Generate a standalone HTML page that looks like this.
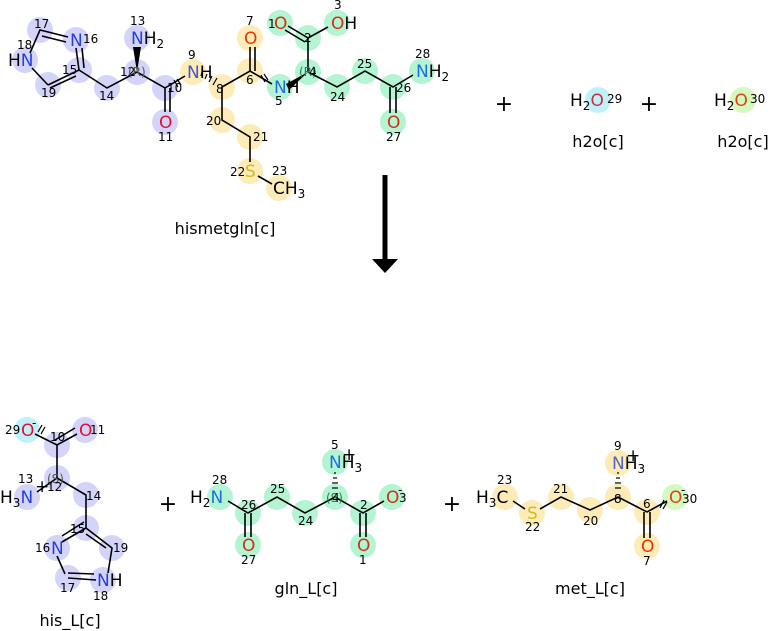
<!DOCTYPE html>
<html><head><meta charset="utf-8"><style>
html,body{margin:0;padding:0;background:#fff;}
svg{display:block;font-family:"DejaVu Sans","Liberation Sans",sans-serif;}
.b{stroke:#000;stroke-width:1.6;fill:none}
.n{font-size:12px;fill:#000}
.a{font-size:17px}
.l{font-size:16px;fill:#000}
.p{font-size:22px;fill:#000}
</style></head><body>
<svg width="769" height="631" viewBox="0 0 769 631">
<g fill="#d4d4fb">
<circle cx="40" cy="30" r="13"/><circle cx="76" cy="40" r="13"/><circle cx="25" cy="60" r="13"/><circle cx="48" cy="85" r="13"/><circle cx="79" cy="70" r="13"/><circle cx="107" cy="88" r="13"/><circle cx="137" cy="72" r="13"/><circle cx="137" cy="38" r="13"/><circle cx="165" cy="88" r="13"/><circle cx="165" cy="122" r="13"/>
</g>
<g fill="#fdebb8">
<circle cx="193" cy="72" r="13"/><circle cx="222" cy="87" r="13"/><circle cx="250" cy="71" r="13"/><circle cx="250" cy="38" r="13"/><circle cx="222" cy="120" r="13"/><circle cx="250" cy="137" r="13"/><circle cx="250" cy="171" r="13"/><circle cx="279" cy="188" r="13"/>
</g>
<g fill="#b4f4d2">
<circle cx="280" cy="87" r="13"/><circle cx="308" cy="72" r="13"/><circle cx="308" cy="38" r="13"/><circle cx="280" cy="23" r="13"/><circle cx="337" cy="23" r="13"/><circle cx="337" cy="87" r="13"/><circle cx="365" cy="71" r="13"/><circle cx="393" cy="87" r="13"/><circle cx="393" cy="122" r="13"/><circle cx="422" cy="71" r="13"/>
</g>
<circle cx="598" cy="100" r="13" fill="#bff0fb"/>
<circle cx="743" cy="100" r="13" fill="#d6f9c0"/>
<circle cx="27" cy="430" r="13" fill="#bff0fb"/>
<g fill="#d4d4fb">
<circle cx="85" cy="430" r="13"/><circle cx="57" cy="445" r="13"/><circle cx="57" cy="478" r="13"/><circle cx="27" cy="497" r="13"/><circle cx="86" cy="495" r="13"/><circle cx="86" cy="528" r="13"/><circle cx="57" cy="548" r="13"/><circle cx="112" cy="548" r="13"/><circle cx="68" cy="578" r="13"/><circle cx="103" cy="580" r="13"/>
</g>
<g fill="#b4f4d2">
<circle cx="220" cy="497" r="13"/><circle cx="248" cy="513" r="13"/><circle cx="277" cy="497" r="13"/><circle cx="305" cy="513" r="13"/><circle cx="335" cy="497" r="13"/><circle cx="335" cy="462" r="13"/><circle cx="363" cy="513" r="13"/><circle cx="392" cy="497" r="13"/><circle cx="248" cy="545" r="13"/><circle cx="363" cy="545" r="13"/>
</g>
<g fill="#fdebb8">
<circle cx="505" cy="497" r="13"/><circle cx="532" cy="513" r="13"/><circle cx="561" cy="497" r="13"/><circle cx="590" cy="510" r="13"/><circle cx="618" cy="497" r="13"/><circle cx="618" cy="463" r="13"/><circle cx="647" cy="512" r="13"/><circle cx="647" cy="546" r="13"/>
</g>
<circle cx="675" cy="497" r="13" fill="#d6f9c0"/>

<g class="b">
<path d="M30 53 L40 30 L68 37 M42 36 L66 42 M76 48 L79 70 M82 48 L84 68 M79 70 L48 85 M76 76 L50 88 M48 85 L32 68"/>
<path d="M79 70 L107 88 L137 72 L165 88 L185 76 M165 88 L165 112 M170 88 L170 112"/>
<path d="M222 87 L250 71 L272 84 M250 71 L250 47 M255 71 L255 47 M222 87 L222 120 L250 137 L250 162 M258 176 L272 184"/>
<path d="M308 72 L308 38 L288 26 M305 42 L285 30 M308 38 L328 27 M308 72 L337 87 L365 71 L393 87 L413 75 M390 87 L390 113 M396 87 L396 113"/>
</g>
<polygon points="137,72 133,47 141,47" fill="#000"/>
<polygon points="308,72 286,84 289,90" fill="#000"/>
<g stroke="#000" stroke-width="1.2">
<line x1="201" y1="76" x2="202" y2="72"/><line x1="205" y1="79" x2="207" y2="74"/><line x1="209" y1="82" x2="212" y2="76"/><line x1="213" y1="85" x2="217" y2="78"/>
<line x1="174" y1="80" x2="178" y2="87"/><line x1="177" y1="79" x2="181" y2="85"/>
<line x1="261" y1="75" x2="265" y2="82"/><line x1="264" y1="74" x2="268" y2="80"/>
</g>
<g class="b">
<path d="M35 434 L57 445 L77 434 M55 440 L75 428 M57 445 L57 478 L86 495 L86 528 M57 478 L37 492"/>
<path d="M86 528 L62 542 M84 522 L62 536 M57 556 L65 574 M68 578 L96 580 M68 573 L94 574 M108 573 L112 548 L86 528 M106 548 L86 534"/>
<path d="M228 501 L248 513 L277 497 L305 513 L335 497 L363 513 L384 501 M245 513 L245 537 M251 513 L251 537 M360 513 L360 537 M366 513 L366 537"/>
<path d="M513 501 L525 509 M540 509 L561 497 L590 510 L618 497 L647 512 L667 501 M644 512 L644 538 M650 512 L650 538"/>
</g>
<g stroke="#000" stroke-width="1.2">
<line x1="332" y1="488" x2="338" y2="488"/><line x1="332" y1="483" x2="338" y2="483"/><line x1="333" y1="478" x2="337" y2="478"/><line x1="334" y1="473" x2="336" y2="473"/>
<line x1="615" y1="488" x2="621" y2="488"/><line x1="615" y1="483" x2="621" y2="483"/><line x1="616" y1="478" x2="620" y2="478"/><line x1="617" y1="473" x2="619" y2="473"/>
<line x1="38" y1="432" x2="42" y2="425"/><line x1="41" y1="434" x2="45" y2="427"/>
<line x1="660" y1="508" x2="664" y2="500"/><line x1="663" y1="509" x2="667" y2="502"/>
</g>

<g class="a">
<text x="70" y="46" fill="#2540e0">N</text>
<text x="8" y="66"><tspan fill="#000">H</tspan><tspan fill="#2540e0">N</tspan></text>
<text x="131" y="44"><tspan fill="#2540e0">N</tspan><tspan fill="#000">H</tspan><tspan font-size="12" dy="4">2</tspan></text>
<text x="159" y="128" fill="#e01030">O</text>
<text x="187" y="78"><tspan fill="#4455cc">N</tspan><tspan fill="#000">H</tspan></text>
<text x="244" y="44" fill="#ee3300">O</text>
<text x="274" y="93"><tspan fill="#1a70e0">N</tspan><tspan fill="#000">H</tspan></text>
<text x="274" y="29" fill="#cc3311">O</text>
<text x="331" y="29"><tspan fill="#cc3311">O</tspan><tspan fill="#000">H</tspan></text>
<text x="387" y="128" fill="#cc3311">O</text>
<text x="416" y="77"><tspan fill="#1a70e0">N</tspan><tspan fill="#000">H</tspan><tspan font-size="12" dy="4">2</tspan></text>
<text x="245" y="177" fill="#c8c020">S</text>
<text x="273" y="194" fill="#000">CH<tspan font-size="12" dy="4">3</tspan></text>
<text x="570" y="106" fill="#000">H<tspan font-size="12" dy="4">2</tspan><tspan dy="-4" fill="#cc3333">O</tspan></text>
<text x="714" y="106" fill="#000">H<tspan font-size="12" dy="4">2</tspan><tspan dy="-4" fill="#dd4411">O</tspan></text>
</g>
<g class="n">
<text x="34" y="28">17</text><text x="83" y="43">16</text><text x="17" y="49">18</text><text x="41" y="97">19</text><text x="62" y="74">15</text><text x="99" y="100">14</text><text x="120" y="76">12</text><text x="128" y="76" fill="#555">(R)</text><text x="130" y="25">13</text><text x="167" y="92">10</text><text x="158" y="141">11</text><text x="188" y="59">9</text><text x="216" y="93">8</text><text x="246" y="84">6</text><text x="246" y="25">7</text><text x="275" y="105">5</text><text x="299" y="76" fill="#2a7a55">(R)</text><text x="309" y="76">4</text><text x="304" y="42">2</text><text x="268" y="28">1</text><text x="334" y="9">3</text><text x="330" y="101">24</text><text x="357" y="68">25</text><text x="396" y="92">26</text><text x="386" y="141">27</text><text x="415" y="58">28</text><text x="206" y="125">20</text><text x="253" y="141">21</text><text x="230" y="176">22</text><text x="272" y="175">23</text>
<text x="607" y="103">29</text><text x="750" y="103">30</text>
</g>
<text class="l" x="225" y="234" text-anchor="middle">hismetgln[c]</text>
<text class="l" x="598" y="147" text-anchor="middle">h2o[c]</text>
<text class="l" x="743" y="147" text-anchor="middle">h2o[c]</text>
<text class="p" x="504" y="111" text-anchor="middle">+</text>
<text class="p" x="649" y="111" text-anchor="middle">+</text>

<rect x="382.5" y="175" width="5" height="85" fill="#000"/>
<polygon points="372,259 398,259 385,273" fill="#000"/>

<g class="a">
<text x="21" y="436" fill="#e01030">O</text><text x="32" y="427" font-size="12">-</text>
<text x="79" y="436" fill="#e01030">O</text>
<text x="0" y="503" fill="#000">H<tspan font-size="12" dy="4">3</tspan><tspan dy="-4" fill="#2540e0">N</tspan></text>
<text x="35" y="492" font-size="17">+</text>
<text x="51" y="554" fill="#2540e0">N</text>
<text x="97" y="586"><tspan fill="#2540e0">N</tspan><tspan fill="#000">H</tspan></text>
<text x="190" y="503" fill="#000">H<tspan font-size="12" dy="4">2</tspan><tspan dy="-4" fill="#1a70e0">N</tspan></text>
<text x="329" y="468"><tspan fill="#1a70e0">N</tspan><tspan fill="#000">H</tspan><tspan font-size="12" dy="4">3</tspan></text>
<text x="342" y="460" font-size="17">+</text>
<text x="386" y="503" fill="#cc3311">O</text><text x="398" y="494" font-size="12">-</text>
<text x="242" y="551" fill="#cc3311">O</text>
<text x="357" y="551" fill="#cc3311">O</text>
<text x="476" y="503" fill="#000">H<tspan font-size="12" dy="4">3</tspan><tspan dy="-4">C</tspan></text>
<text x="527" y="519" fill="#c8c020">S</text>
<text x="612" y="469"><tspan fill="#5566bb">N</tspan><tspan fill="#000">H</tspan><tspan font-size="12" dy="4">3</tspan></text>
<text x="626" y="461" font-size="17">+</text>
<text x="669" y="503" fill="#dd4411">O</text><text x="681" y="494" font-size="12">-</text>
<text x="641" y="552" fill="#ee3300">O</text>
</g>
<g class="n">
<text x="5" y="434">29</text><text x="90" y="434">11</text><text x="50" y="441">10</text><text x="47" y="483" fill="#555">(S)</text><text x="47" y="491">12</text><text x="18" y="483">13</text><text x="86" y="500">14</text><text x="70" y="533">15</text><text x="35" y="552">16</text><text x="113" y="552">19</text><text x="60" y="592">17</text><text x="93" y="600">18</text>
<text x="212" y="484">28</text><text x="241" y="509">26</text><text x="270" y="493">25</text><text x="298" y="525">24</text><text x="326" y="502" fill="#2a7a55">(S)</text><text x="332" y="502">4</text><text x="331" y="449">5</text><text x="360" y="509">2</text><text x="399" y="502">3</text><text x="241" y="564">27</text><text x="359" y="564">1</text>
<text x="497" y="484">23</text><text x="525" y="531">22</text><text x="553" y="493">21</text><text x="583" y="525">20</text><text x="614" y="503">8</text><text x="614" y="450">9</text><text x="643" y="508">6</text><text x="643" y="565">7</text><text x="682" y="503">30</text>
</g>
<text class="p" x="168" y="511" text-anchor="middle">+</text>
<text class="p" x="452" y="511" text-anchor="middle">+</text>
<text class="l" x="70" y="626" text-anchor="middle">his_L[c]</text>
<text class="l" x="306" y="594" text-anchor="middle">gln_L[c]</text>
<text class="l" x="590" y="594" text-anchor="middle">met_L[c]</text>
</svg>
</body></html>
